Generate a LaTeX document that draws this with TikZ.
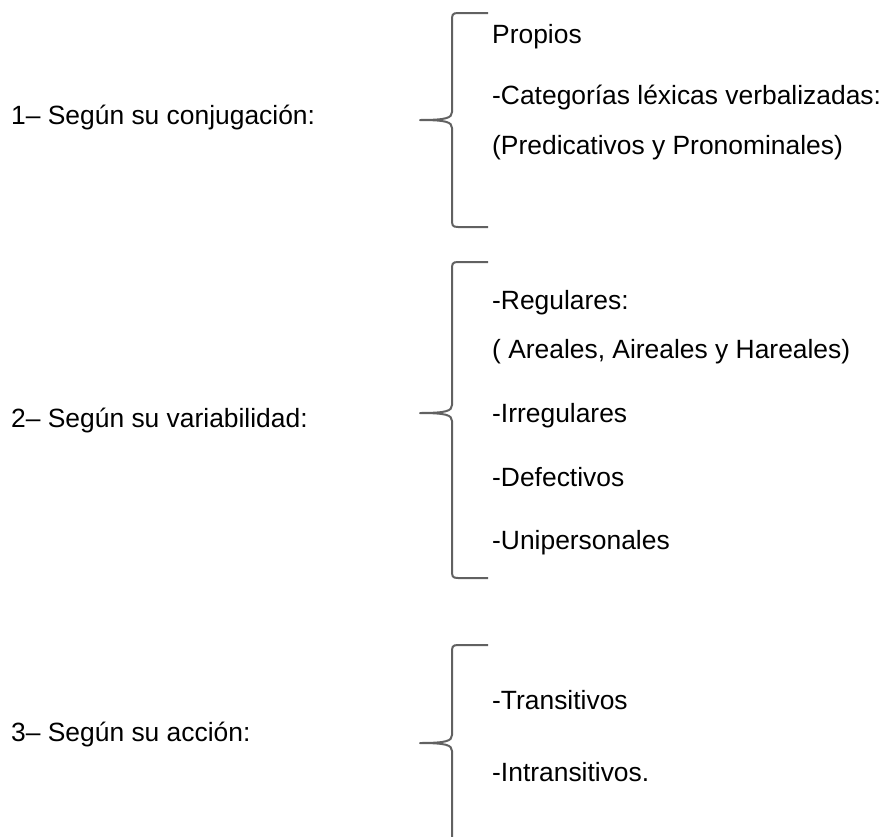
\documentclass[tikz,border=0pt]{standalone}
\usepackage{fontspec}
\setmainfont{Liberation Sans}
\begin{document}
\begin{tikzpicture}[x=1pt,y=-1pt,
  txt/.style={anchor=base west,inner sep=0pt,font=\fontsize{26.4}{30}\selectfont},
  bracestyle/.style={draw=black!62,line width=2pt,line join=round}]
\useasboundingbox (0,0) rectangle (886,836);
\clip (0,0) rectangle (886,836);
% labels
\node[txt] (l1) at (11,124) {1– Según su conjugación:};
\node[txt] (l2) at (11,427) {2– Según su variabilidad:};
\node[txt] (l3) at (11,741) {3– Según su acción:};
% group 1
\node[txt] (a1) at (492,43) {Propios};
\node[txt] (a2) at (492,104) {-Categorías léxicas verbalizadas:};
\node[txt] (a3) at (492,154) {(Predicativos y Pronominales)};
% group 2
\node[txt] (b1) at (492,309) {-Regulares:};
\node[txt] (b2) at (492,358) {( Areales, Aireales y Hareales)};
\node[txt] (b3) at (492,422) {-Irregulares};
\node[txt] (b4) at (492,486) {-Defectivos};
\node[txt] (b5) at (492,549) {-Unipersonales};
% group 3
\node[txt] (c1) at (492,709) {-Transitivos};
\node[txt] (c2) at (492,781) {-Intransitivos.};
% braces
\foreach \t/\m/\b/\n in {13/120/227/A, 262/413/578/B, 645/743/860/C}{
  \coordinate (\n top) at (488,\t);
  \coordinate (\n tip) at (420,\m);
  \coordinate (\n bot) at (488,\b);
  \draw[bracestyle] (\n top) -- (458,\t) .. controls (452,\t) and (452,\t+2) .. (452,\t+8)
    -- (452,\m-8) .. controls (452,\m-2) and (446,\m) .. (\n tip)
    .. controls (446,\m) and (452,\m+2) .. (452,\m+8)
    -- (452,\b-8) .. controls (452,\b-2) and (452,\b) .. (458,\b) -- (\n bot);
}
\end{tikzpicture}
\end{document}
